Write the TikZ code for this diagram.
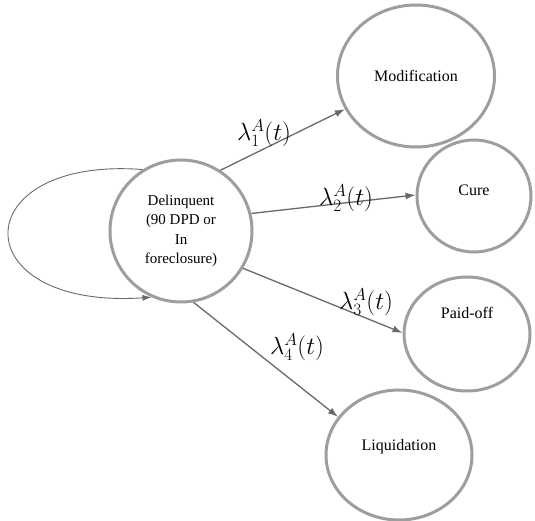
\documentclass[tikz,border=0pt]{standalone}
\usepackage{fontspec}
\setmainfont{Liberation Serif}
\usetikzlibrary{shapes.geometric}
\usetikzlibrary{arrows.meta}
\definecolor{rimgray}{RGB}{158,158,158}
\definecolor{linegray}{RGB}{105,105,105}

\begin{document}
\begin{tikzpicture}[x=1pt, y=-1pt,
	state/.style={ellipse, draw=rimgray, line width=3pt, inner sep=0pt, align=center, font=\fontsize{16}{20}\selectfont},
	rate/.style={-{Latex[length=10pt,width=7pt]}, draw=linegray, line width=1.3pt},
	stay/.style={-{Latex[length=9pt,width=6pt]}, draw=linegray, line width=0.9pt},
	ratelabel/.style={inner sep=0pt, font=\fontsize{24}{28}\selectfont}]
	\useasboundingbox (0,0) rectangle (535,521);
	\node[state, minimum width=142pt, minimum height=142pt, font=\fontsize{15}{19.5}\selectfont] (delq) at (181,231) {Delinquent\\(90 DPD or\\In\\foreclosure)};
	\node[state, minimum width=157pt, minimum height=142pt] (modif) at (416,76) {Modification};
	\node[state, minimum width=114pt, minimum height=112pt, label={[yshift=6pt, font=\fontsize{16}{20}\selectfont]center:Cure}] (cure) at (474,196) {};
	\node[state, minimum width=126pt, minimum height=114pt, label={[yshift=21pt, font=\fontsize{16}{20}\selectfont]center:Paid-off}] (paid) at (467,334) {};
	\node[state, minimum width=146pt, minimum height=130pt, label={[yshift=8pt, font=\fontsize{16}{20}\selectfont]center:Liquidation}] (liq) at (399,455) {};
	\draw[stay] (delq.122) .. controls (-36,156) and (-38,310) .. (delq.246); % self loop
	\draw[rate] (delq.57) -- (modif.205);
	\draw[rate] (delq.14) -- (cure.179);
	\draw[rate] (delq.-31) -- (paid.179);
	\draw[rate] (delq.-80) -- (liq.148);
	\node[ratelabel] (r1) at (264,133) {$\lambda_1^A(t)$};
	\node[ratelabel] (r2) at (346,198) {$\lambda_2^A(t)$};
	\node[ratelabel] (r3) at (366,302) {$\lambda_3^A(t)$};
	\node[ratelabel] (r4) at (297,347) {$\lambda_4^A(t)$};
\end{tikzpicture}
\end{document}
